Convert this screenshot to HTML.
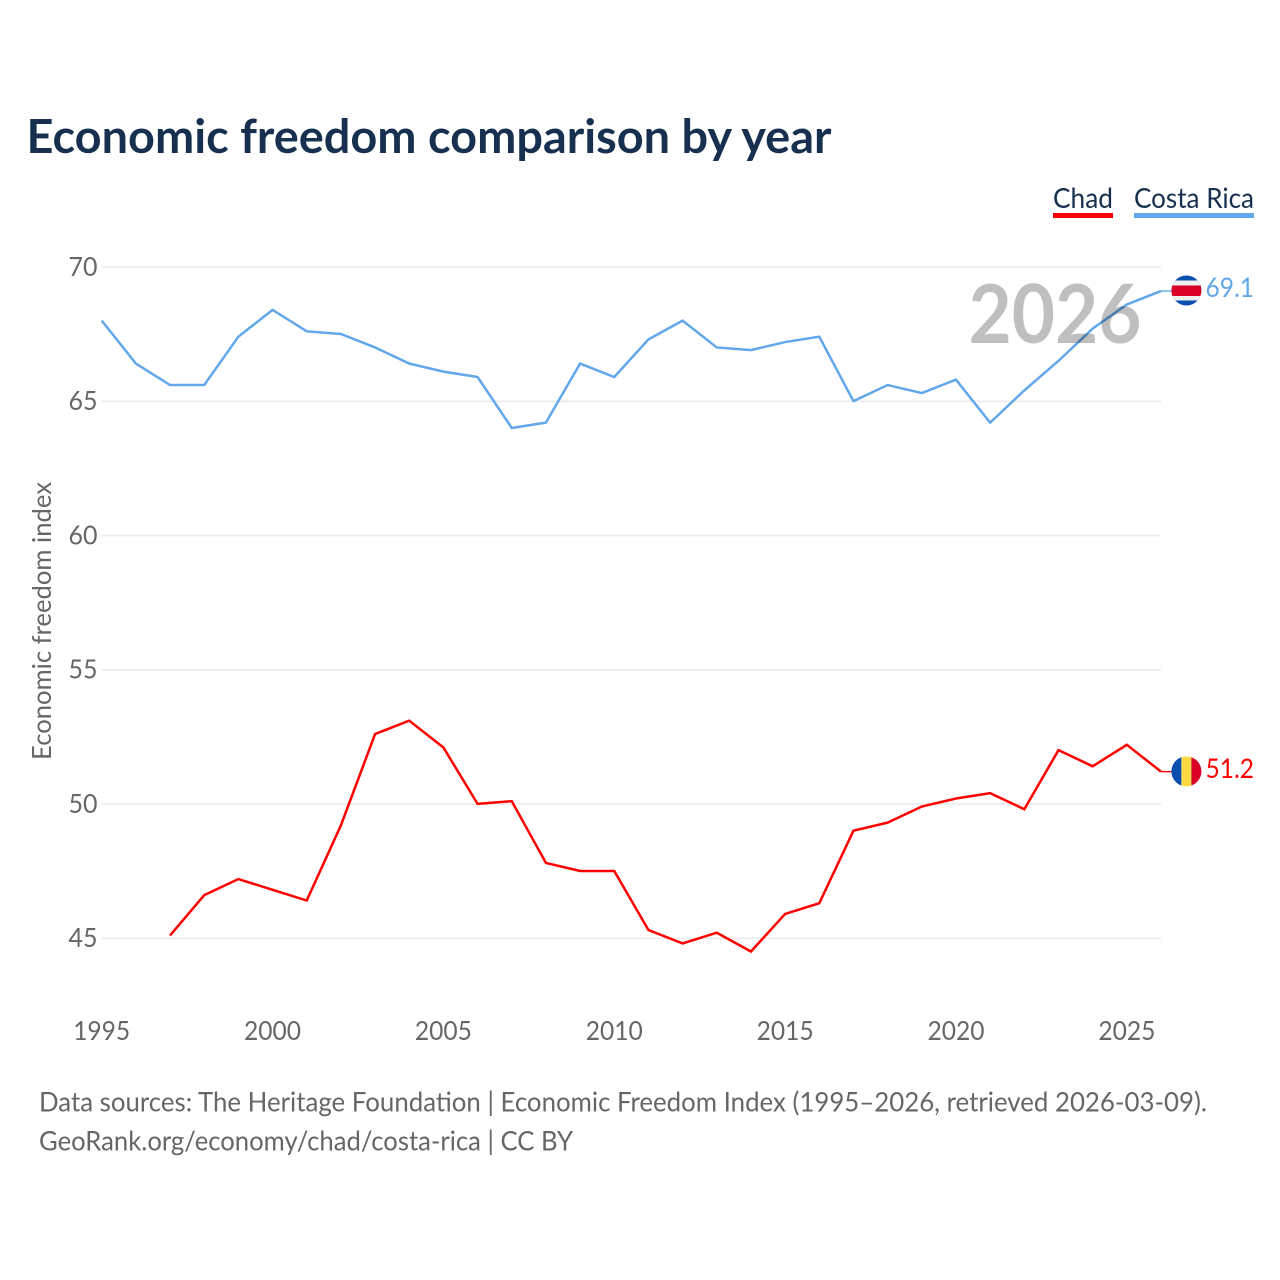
<!DOCTYPE html>
<html lang="en">
<head>
<meta charset="utf-8">
<title>Economic freedom comparison by year</title>
<style>
html,body{margin:0;padding:0;background:#fff;width:1280px;height:1280px;overflow:hidden}
svg{display:block}
text{font-family:"Lato","Carlito","Liberation Sans",sans-serif}
</style>
</head>
<body>
<svg id="chart" width="1280" height="1280" viewBox="0 0 1280 1280" xmlns="http://www.w3.org/2000/svg">
  <defs>
    <clipPath id="clip-cr"><circle cx="1186.4" cy="290.5" r="15"/></clipPath>
    <clipPath id="clip-td"><circle cx="1186.4" cy="771.4" r="15"/></clipPath>
  </defs>
  <text x="26.5" y="153" font-size="47" font-weight="700" fill="#18304f" textLength="805" lengthAdjust="spacingAndGlyphs">Economic freedom comparison by year</text>

  <g id="grid"></g>
  <g id="y-ticks"></g>
  <g id="x-ticks"></g>
  <text transform="translate(51,621) rotate(-90)" text-anchor="middle" font-size="26" fill="#666" textLength="278" lengthAdjust="spacingAndGlyphs">Economic freedom index</text>

  <g id="lines"></g>

  <text x="968.5" y="343" font-size="81" font-weight="700" fill="#000" fill-opacity="0.25" textLength="173" lengthAdjust="spacingAndGlyphs">2026</text>

  <g>
    <text x="1053" y="208" font-size="28" fill="#18304f" textLength="60" lengthAdjust="spacingAndGlyphs">Chad</text>
    <rect x="1053" y="213" width="60" height="5" fill="#ff0000"/>
  </g>
  <g>
    <text x="1134" y="208" font-size="28" fill="#18304f" textLength="120" lengthAdjust="spacingAndGlyphs">Costa Rica</text>
    <rect x="1134" y="213" width="120" height="5" fill="#62a7eb"/>
  </g>

  <g clip-path="url(#clip-cr)">
    <rect x="1171" y="275" width="31" height="31" fill="#0a4fb0"/>
    <rect x="1171" y="280.5" width="31" height="20" fill="#eeeeee"/>
    <rect x="1171" y="285.5" width="31" height="10.5" fill="#d80027"/>
  </g>
  <g clip-path="url(#clip-td)">
    <rect x="1171" y="756" width="10.4" height="31" fill="#0a4fb0"/>
    <rect x="1181.4" y="756" width="10" height="31" fill="#ffda44"/>
    <rect x="1191.4" y="756" width="11" height="31" fill="#d80027"/>
  </g>
  <text x="1205.5" y="297" font-size="27" fill="#62a7eb" textLength="48.5" lengthAdjust="spacingAndGlyphs">69.1</text>
  <text x="1205.5" y="778" font-size="27" fill="#ff0000" textLength="48.5" lengthAdjust="spacingAndGlyphs">51.2</text>

  <text x="39" y="1111.5" font-size="27" fill="#666" textLength="1168" lengthAdjust="spacingAndGlyphs">Data sources: The Heritage Foundation | Economic Freedom Index (1995–2026, retrieved 2026-03-09).</text>
  <text x="39" y="1150.5" font-size="27" fill="#666" textLength="534" lengthAdjust="spacingAndGlyphs">GeoRank.org/economy/chad/costa-rica | CC BY</text>
</svg>
<script>
const years = [1995,1996,1997,1998,1999,2000,2001,2002,2003,2004,2005,2006,2007,2008,2009,2010,2011,2012,2013,2014,2015,2016,2017,2018,2019,2020,2021,2022,2023,2024,2025,2026];
const costaRica = [68.0,66.4,65.6,65.6,67.4,68.4,67.6,67.5,67.0,66.4,66.1,65.9,64.0,64.2,66.4,65.9,67.3,68.0,67.0,66.9,67.2,67.4,65.0,65.6,65.3,65.8,64.2,65.4,66.5,67.7,68.6,69.1];
const chad = [null,null,45.1,46.6,47.2,46.8,46.4,49.2,52.6,53.1,52.1,50.0,50.1,47.8,47.5,47.5,45.3,44.8,45.2,44.5,45.9,46.3,49.0,49.3,49.9,50.2,50.4,49.8,52.0,51.4,52.2,51.2];
const yTickValues = [45,50,55,60,65,70];
const xTickValues = [1995,2000,2005,2010,2015,2020,2025];

const NS = 'http://www.w3.org/2000/svg';
function xScale(year){ return 101.7 + (year - 1995) * (1161 - 101.7) / 31; }
function yScale(v){ return 938.1 - (v - 45) * (938.1 - 266.9) / 25; }

function make(tag, attrs, parent){
  const el = document.createElementNS(NS, tag);
  for (const k in attrs) el.setAttribute(k, attrs[k]);
  parent.appendChild(el);
  return el;
}

const gridG = document.getElementById('grid');
const yG = document.getElementById('y-ticks');
const xG = document.getElementById('x-ticks');
const linesG = document.getElementById('lines');

yTickValues.forEach(function(v){
  const line = make('line', {x1:102, x2:1161, y1:yScale(v) + 0.2, y2:yScale(v) + 0.2, stroke:'#ebebeb', 'stroke-width':1.6}, gridG);
  
  
  const t = make('text', {x:97.5, y:yScale(v) + 9, 'text-anchor':'end', 'font-size':26, fill:'#666', textLength:29, lengthAdjust:'spacingAndGlyphs'}, yG);
  t.textContent = String(v);
  
  
});

xTickValues.forEach(function(y){
  const t = make('text', {x:xScale(y), y:1040, 'text-anchor':'middle', 'font-size':26, fill:'#666', textLength:57, lengthAdjust:'spacingAndGlyphs'}, xG);
  t.textContent = String(y);
  
  
});

function pathFor(values){
  let d = '';
  values.forEach(function(v, i){
    if (v === null) return;
    d += (d ? 'L' : 'M') + xScale(years[i]).toFixed(2) + ' ' + yScale(v).toFixed(2);
  });
  return d;
}

function connector(values, color, name){
  const y = yScale(values[values.length - 1]);
  const c = make('line', {x1:1161, x2:1172, y1:y, y2:y, stroke:color, 'stroke-width':1.4}, linesG);
  
  
}

const lineChad = make('path', {d:pathFor(chad), fill:'none', stroke:'#ff0000', 'stroke-width':2.5, 'stroke-linejoin':'miter'}, linesG);



const lineCR = make('path', {d:pathFor(costaRica), fill:'none', stroke:'#62a7eb', 'stroke-width':2.5, 'stroke-linejoin':'miter'}, linesG);



connector(chad, '#ff0000', 'connector-chad');
connector(costaRica, '#62a7eb', 'connector-costa-rica');
</script>
</body>
</html>
